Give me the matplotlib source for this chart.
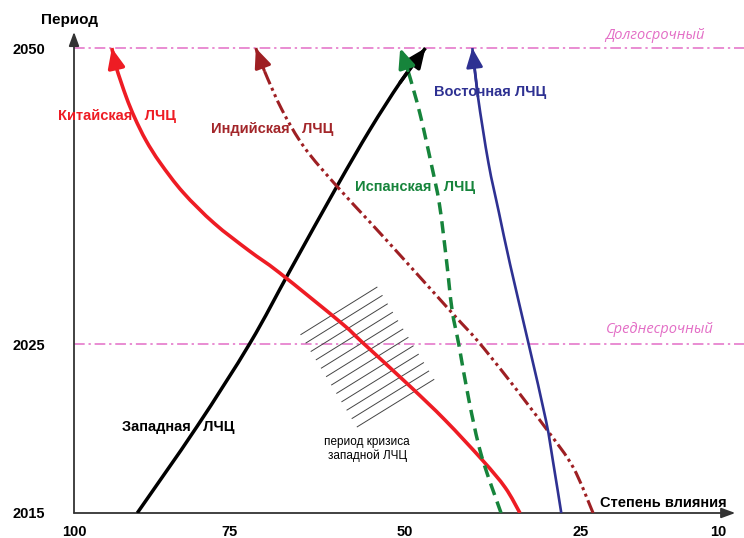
import numpy as np
import matplotlib
matplotlib.use("Agg")
import matplotlib.pyplot as plt
from matplotlib.path import Path
from matplotlib.patches import PathPatch

plt.rcParams['font.family'] = ['Liberation Sans', 'DejaVu Sans']

# -------------------------
# Data (influence, year)
# -------------------------
x_ticks = [100, 75, 50, 25, 10]
y_ticks = [2015, 2025, 2050]

west_x = [89.8, 80.2, 72.0, 66.3, 59.7, 55.0, 50.7, 47.1]
west_y = [2015, 2020.1, 2025.1, 2031.25, 2038.3, 2043.1, 2047.1, 2050]

china_x = [33.6, 35.7, 38.9, 44.3, 49.3, 56.0, 59.1, 67.8, 72.2, 77.4,
           82.4, 86.1, 88.4, 90.2, 91.6, 93.2, 93.9]
china_y = [2015, 2016.5, 2018.1, 2020.5, 2022.5, 2025.1, 2026.8, 2031.0,
           2032.9, 2035.2, 2037.8, 2040.3, 2042.2, 2044.1, 2045.9, 2048.4,
           2050]

india_x = [23.6, 26.0, 29.7, 35.4, 39.7, 43.1, 50.4, 55.0, 59.8, 64.3,
           67.5, 70.0, 71.2]
india_y = [2015, 2017.7, 2019.9, 2023.0, 2025.3, 2027.5, 2032.3, 2035.3,
           2038.4, 2041.6, 2044.8, 2048.1, 2050]

spain_x = [36.3, 39.1, 40.9, 42.3, 43.3, 44.1, 45.1, 46.3, 47.9, 49.6, 50.7]
spain_y = [2015, 2018.4, 2021.7, 2024.9, 2027.9, 2032.1, 2036.8, 2040.3,
           2044.5, 2048.1, 2050]

east_x = [27.7, 28.9, 29.9, 32.4, 35.0, 36.6, 38.1, 39.6, 40.4]
east_y = [2015, 2018.1, 2020.5, 2025.1, 2031.7, 2036.1, 2040.3, 2045.9, 2050]

# crisis band corners: first line start/end, last line start/end
crisis_first = [(64.8, 2025.8), (54.0, 2029.8)]
crisis_last = [(56.8, 2020.1), (45.9, 2022.9)]
crisis_count = 12

# -------------------------
# Schematic (uneven) scales
# -------------------------
x_knots = [0, 10, 25, 50, 75, 100, 120]
x_span = [0, 92, 230, 405, 581, 736, 860]
y_knots = [2005, 2015, 2025, 2050, 2060]
y_span = [-169, 0, 169, 465, 583]


def fx(v):
    return np.interp(v, x_knots, x_span)


def fx_inv(p):
    return np.interp(p, x_span, x_knots)


def fy(v):
    return np.interp(v, y_knots, y_span)


def fy_inv(p):
    return np.interp(p, y_span, y_knots)


fig = plt.figure(figsize=(7.44, 5.38), dpi=100)
ax = fig.add_axes([74 / 744, 25 / 538, 670 / 744, 485 / 538])
ax.set_xscale('function', functions=(fx, fx_inv))
ax.set_yscale('function', functions=(fy, fy_inv))
ax.set_xlim(100, 7.2)
ax.set_ylim(2015, 2051.7)

for s in ax.spines.values():
    s.set_visible(False)

ax.set_xticks(x_ticks)
ax.set_xticklabels([str(t) for t in x_ticks], fontsize=10.5, fontweight='bold')
ax.set_yticks(y_ticks)
ax.set_yticklabels([str(t) for t in y_ticks], fontsize=10.5, fontweight='bold')
ax.minorticks_off()
ax.tick_params(axis='x', length=0, pad=9)
ax.tick_params(axis='y', length=0, pad=21)

# axes arrows
axis_arrow = dict(arrowstyle='-|>,head_length=0.6,head_width=0.22',
                  color='#333333', lw=1.3, mutation_scale=14,
                  shrinkA=0, shrinkB=0)
ax.annotate('', xy=(0, 0.992), xytext=(0, 0), xycoords='axes fraction',
            arrowprops=axis_arrow, annotation_clip=False)
ax.annotate('', xy=(0.987, 0), xytext=(0, 0), xycoords='axes fraction',
            arrowprops=axis_arrow, annotation_clip=False)

# horizon lines
pink = '#e36ec6'
ax.axhline(2050, color=pink, lw=1.1, ls=(0, (7, 2.5, 1.5, 2.5)), zorder=1)
ax.axhline(2025, color=pink, lw=1.1, ls=(0, (7, 2.5, 1.5, 2.5)), zorder=1)
ax.text(16.9, 2051.1, 'Долгосрочный', color=pink, fontsize=10.5,
        style='italic', family=['Open Sans', 'DejaVu Sans'],
        ha='center', va='center')
ax.text(16.3, 2026.2, 'Среднесрочный', color=pink, fontsize=10.5,
        style='italic', family=['Open Sans', 'DejaVu Sans'],
        ha='center', va='center')

# crisis hatching
to_axes = ax.transData + ax.transAxes.inverted()
a0, b0 = to_axes.transform(crisis_first)
a1, b1 = to_axes.transform(crisis_last)
for t in np.linspace(0, 1, crisis_count):
    p = a0 + t * (a1 - a0)
    q = b0 + t * (b1 - b0)
    ax.plot([p[0], q[0]], [p[1], q[1]], transform=ax.transAxes,
            color='#444444', lw=0.7, zorder=2)
ax.text(55.4, 2018.8, 'период кризиса\nзападной ЛЧЦ', fontsize=8.5,
        ha='center', va='center', linespacing=1.1)


def smooth_path(xs, ys):
    # Catmull-Rom through the read points, drawn as cubic Bezier segments
    pts = to_axes.transform(np.column_stack([xs, ys]))
    ext = np.vstack([pts[0], pts, pts[-1]])
    verts = [pts[0]]
    codes = [Path.MOVETO]
    for i in range(1, len(ext) - 2):
        p0, p1, p2, p3 = ext[i - 1], ext[i], ext[i + 1], ext[i + 2]
        verts += [p1 + (p2 - p0) / 6, p2 - (p3 - p1) / 6, p2]
        codes += [Path.CURVE4] * 3
    return Path(verts, codes)


# -------------------------
# Curves
# -------------------------
curves = [
    (west_x, west_y, 'black', 2.5, '-'),
    (china_x, china_y, '#ee1c24', 2.6, '-'),
    (india_x, india_y, '#9e1f23', 2.2, (0, (4.5, 1.3, 1, 1.3, 1, 1.3))),
    (spain_x, spain_y, '#16843b', 2.5, (0, (3.5, 2))),
    (east_x, east_y, '#2e3192', 1.9, '-'),
]
for xs, ys, c, lw, ls in curves:
    ax.add_patch(PathPatch(smooth_path(xs, ys), facecolor='none',
                           edgecolor=c, lw=lw, ls=ls, capstyle='butt',
                           transform=ax.transAxes, zorder=3))
    ax.annotate('', xy=(xs[-1], ys[-1]), xytext=(xs[-2], ys[-2]),
                arrowprops=dict(arrowstyle='-|>,head_length=0.65,head_width=0.28',
                                color=c, lw=lw, mutation_scale=18,
                                shrinkA=0, shrinkB=0),
                zorder=4)

ax.text(93.1, 2044.3, 'Китайская   ЛЧЦ', color='#ee1c24', fontsize=10.5,
        fontweight='bold', ha='center', va='center')
ax.text(68.9, 2043.2, 'Индийская   ЛЧЦ', color='#a3262a', fontsize=10.5,
        fontweight='bold', ha='center', va='center')
ax.text(48.6, 2038.3, 'Испанская   ЛЧЦ', color='#16843b', fontsize=10.5,
        fontweight='bold', ha='center', va='center')
ax.text(37.9, 2046.3, 'Восточная ЛЧЦ', color='#2e3192', fontsize=10.5,
        fontweight='bold', ha='center', va='center')
ax.text(83.2, 2020.1, 'Западная   ЛЧЦ', color='black', fontsize=10.5,
        fontweight='bold', ha='center', va='center')
ax.text(16.0, 2015.6, 'Степень влияния', fontsize=10.5, fontweight='bold',
        ha='center', va='center')
fig.text(69 / 744, 1 - 20 / 538, 'Период', fontsize=11, fontweight='bold',
         ha='center', va='center')

fig.savefig('out.png', dpi=100)
